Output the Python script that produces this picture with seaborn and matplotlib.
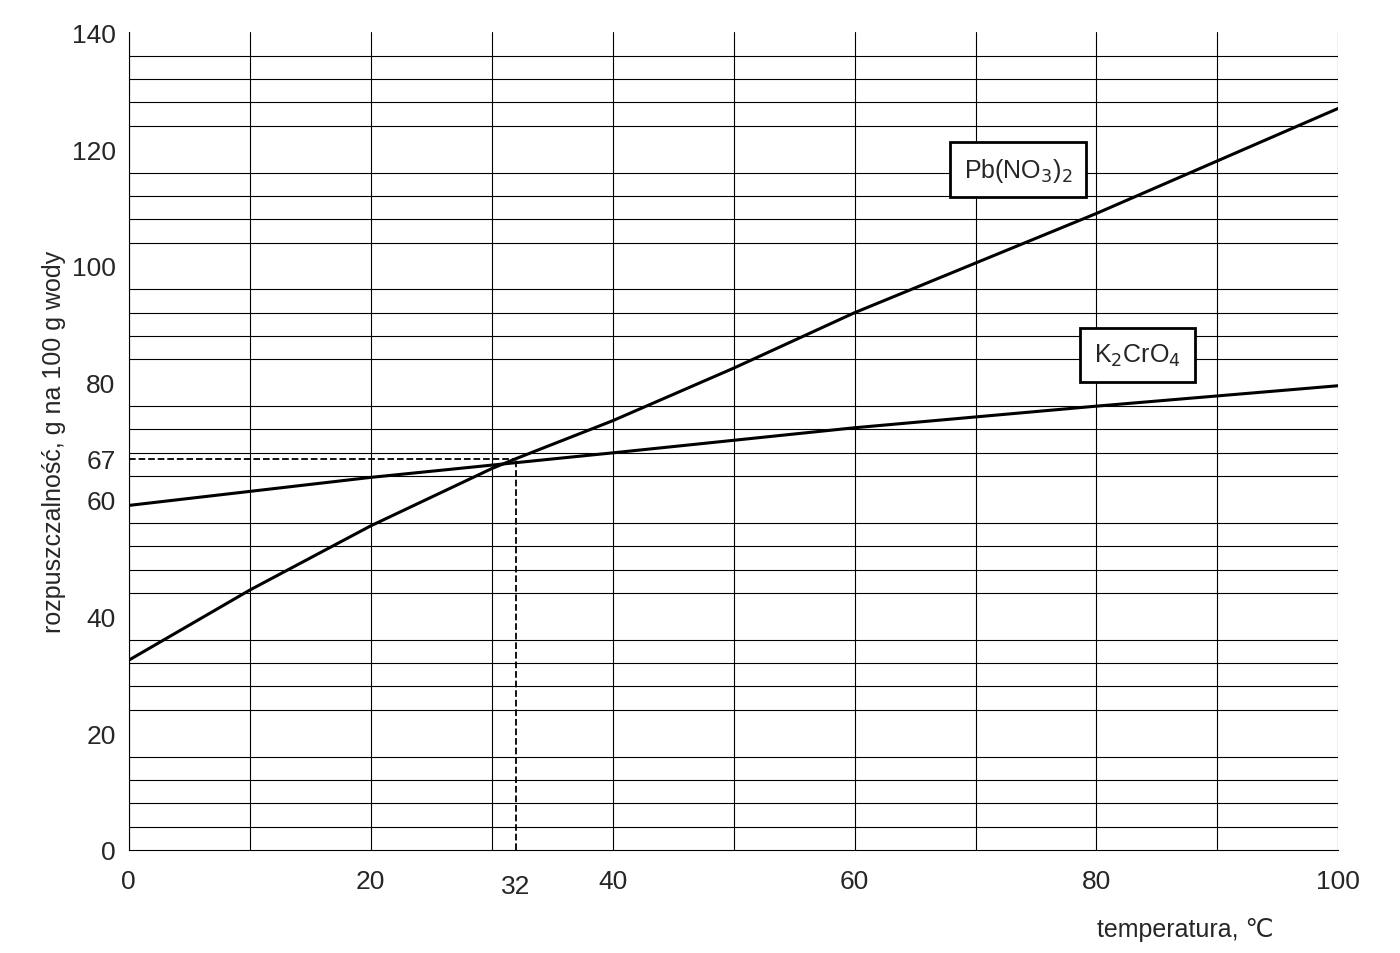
import numpy as np
import pandas as pd
import matplotlib
matplotlib.use("Agg")
import matplotlib.pyplot as plt
import seaborn as sns
from matplotlib.ticker import MultipleLocator

temp = [0, 10, 20, 30, 32, 40, 50, 60, 70, 80, 90, 100]
pb_no3 = [32.5, 44.5, 55.5, 65.3, 67.0, 73.5, 82.5, 92.0, 100.5, 109.0, 118.0, 127.0]
temp_k = [0, 20, 40, 60, 80, 100]
k2cro4 = [59.0, 63.8, 68.0, 72.3, 76.0, 79.5]
x_ticks = [0, 20, 40, 60, 80, 100]
y_ticks = [0, 20, 40, 60, 80, 100, 120, 140]
cross_t, cross_s = 32, 67

sns.set_style("white")
plt.rcParams['font.family'] = ['Liberation Sans', 'DejaVu Sans']

fig = plt.figure(figsize=(14, 9.54), dpi=100)
ax = fig.add_axes([0.092, 0.108, 0.864, 0.857])

df_pb = pd.DataFrame({"t": temp, "s": pb_no3})
df_k = pd.DataFrame({"t": temp_k, "s": k2cro4})
sns.lineplot(data=df_pb, x="t", y="s", ax=ax, color="black", lw=2.2)
sns.lineplot(data=df_k, x="t", y="s", ax=ax, color="black", lw=2.2)

ax.plot([0, cross_t], [cross_s, cross_s], ls="--", color="black", lw=1.3)
ax.plot([cross_t, cross_t], [0, cross_s], ls="--", color="black", lw=1.3)

ax.set_xlim(0, 100)
ax.set_ylim(0, 140)
ax.xaxis.set_minor_locator(MultipleLocator(10))
ax.yaxis.set_minor_locator(MultipleLocator(4))
ax.grid(which="minor", color="black", lw=0.8)
ax.xaxis.grid(which="major", color="black", lw=0.8)
ax.yaxis.grid(which="major", visible=False)
ax.set_xticks(x_ticks)
ax.set_yticks(y_ticks + [cross_s])
ax.set_yticklabels([str(v) for v in y_ticks] + [str(cross_s)])
ax.tick_params(axis="both", which="major", labelsize=19, length=6, color="black")
ax.tick_params(axis="both", which="minor", length=0)
ax.tick_params(axis="x", pad=8)
ax.text(cross_t, -6.2, str(cross_t), ha="center", va="center", fontsize=19)

for s in ["top", "right"]:
    ax.spines[s].set_visible(False)
for s in ["left", "bottom"]:
    ax.spines[s].set_color("black")

ax.set_ylabel("rozpuszczalność, g na 100 g wody", fontsize=18)
ax.set_xlabel("")
fig.text(0.847, 0.018, "temperatura, ℃", ha="center", fontsize=18)

box = dict(boxstyle="square,pad=0.55", fc="white", ec="black", lw=2)
ax.text(73.5, 116.5, r"Pb(NO$_3$)$_2$", ha="center", va="center", fontsize=18, bbox=box)
ax.text(83.4, 84.7, r"K$_2$CrO$_4$", ha="center", va="center", fontsize=18,
        bbox=dict(boxstyle="square,pad=0.55", fc="white", ec="black", lw=2))

fig.savefig("out.png", dpi=100, facecolor="white")
